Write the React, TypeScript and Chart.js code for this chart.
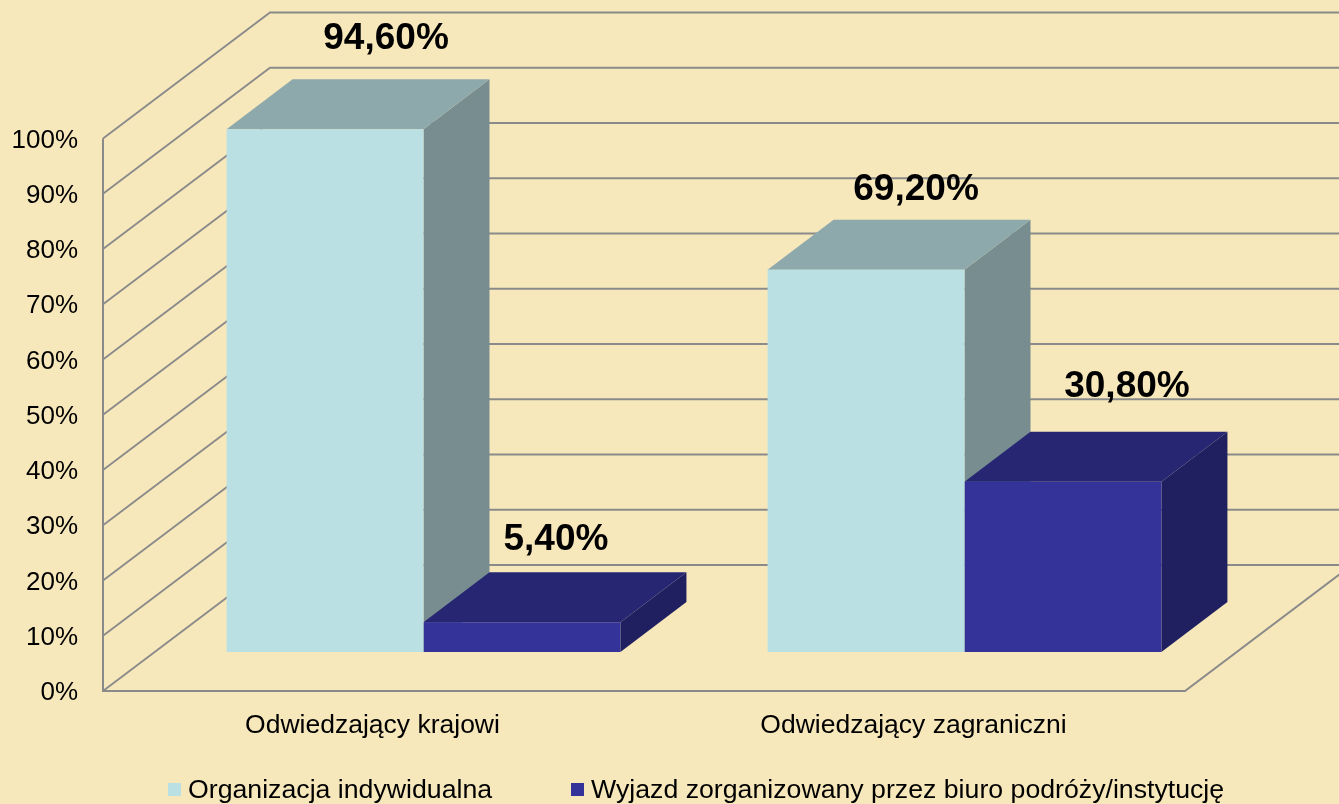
import React, { useEffect, useRef } from "react";
import { Chart, registerables } from "chart.js";

Chart.register(...registerables);

const categories = ["Odwiedzający krajowi", "Odwiedzający zagraniczni"];
const seriesNames = ["Organizacja indywidualna", "Wyjazd zorganizowany przez biuro podróży/instytucję"];
const individual = [94.6, 69.2];
const organized = [5.4, 30.8];

const FONT = "'Liberation Sans', Arial, sans-serif";
const BG = "#F7E8BB";
const LINE = "#8A8A8A";
const FRONT = ["#BBE0E3", "#333399"];
const TOP = ["#8DA9AC", "#262673"];
const SIDE = ["#788D90", "#202060"];

const WALL = { dx: 167, dy: -126 };
const BAR_SHIFT = { dx: 50, dy: -39 };
const DEPTH = { dx: 66, dy: -50 };
const LABEL_NUDGE = [
  [[28, -41], [17, -30]],
  [[1, -32], [31, -45]],
];

const poly = (ctx: CanvasRenderingContext2D, pts: number[][], fill: string) => {
  ctx.beginPath();
  pts.forEach(([x, y], i) => (i ? ctx.lineTo(x, y) : ctx.moveTo(x, y)));
  ctx.closePath();
  ctx.fillStyle = fill;
  ctx.fill();
};

const stroke = (ctx: CanvasRenderingContext2D, pts: number[][], width: number) => {
  ctx.beginPath();
  pts.forEach(([x, y], i) => (i ? ctx.lineTo(x, y) : ctx.moveTo(x, y)));
  ctx.strokeStyle = LINE;
  ctx.lineWidth = width;
  ctx.stroke();
};

const plugin3d = {
  id: "plugin3d",
  beforeDatasetsDraw(chart: any) {
    const { ctx, chartArea: a, scales } = chart;
    const y = scales.y;
    ctx.save();
    y.ticks.forEach((t: any) => {
      const py = y.getPixelForValue(t.value);
      const bx = a.left + WALL.dx;
      const by = py + WALL.dy;
      stroke(ctx, [[a.left, py], [bx, by], [chart.width + 5, by]], 1.8);
    });
    stroke(ctx, [[a.left, a.top], [a.left, a.bottom], [a.right, a.bottom], [a.right + WALL.dx, a.bottom + WALL.dy]], 2);

    chart.data.datasets.forEach((_: any, di: number) => {
      chart.getDatasetMeta(di).data.forEach((bar: any) => {
        const half = bar.width / 2;
        const l = bar.x - half + BAR_SHIFT.dx;
        const r = bar.x + half + BAR_SHIFT.dx;
        const t = bar.y + BAR_SHIFT.dy;
        const b = bar.base + BAR_SHIFT.dy;
        poly(ctx, [[r, t], [r + DEPTH.dx, t + DEPTH.dy], [r + DEPTH.dx, b + DEPTH.dy], [r, b]], SIDE[di]);
        poly(ctx, [[l, t], [l + DEPTH.dx, t + DEPTH.dy], [r + DEPTH.dx, t + DEPTH.dy], [r, t]], TOP[di]);
      });
    });
    ctx.restore();
    ctx.save();
    ctx.translate(BAR_SHIFT.dx, BAR_SHIFT.dy);
  },
  afterDatasetsDraw(chart: any) {
    const { ctx } = chart;
    ctx.restore();
    ctx.save();
    ctx.font = `bold 37px ${FONT}`;
    ctx.fillStyle = "#000";
    ctx.textAlign = "center";
    ctx.textBaseline = "middle";
    chart.data.datasets.forEach((ds: any, di: number) => {
      chart.getDatasetMeta(di).data.forEach((bar: any, i: number) => {
        const [nx, ny] = LABEL_NUDGE[di][i];
        const text = ds.data[i].toFixed(2).replace(".", ",") + "%";
        ctx.fillText(text, bar.x + BAR_SHIFT.dx + DEPTH.dx / 2 + nx, bar.y + BAR_SHIFT.dy + DEPTH.dy + ny);
      });
    });

    ctx.font = `26.7px ${FONT}`;
    ctx.textAlign = "left";
    ctx.textBaseline = "middle";
    const starts = [168, 571];
    chart.data.datasets.forEach((ds: any, di: number) => {
      ctx.fillStyle = FRONT[di];
      ctx.fillRect(starts[di], 783, 13, 13);
      ctx.fillStyle = "#000";
      ctx.fillText(ds.label, starts[di] + 20, 791);
    });
    ctx.restore();
  },
};

export default function App() {
  const ref = useRef<HTMLCanvasElement | null>(null);
  useEffect(() => {
    const chart = new Chart(ref.current as HTMLCanvasElement, {
      type: "bar",
      data: {
        labels: categories,
        datasets: [
          { label: seriesNames[0], data: individual, backgroundColor: FRONT[0], clip: false } as any,
          { label: seriesNames[1], data: organized, backgroundColor: FRONT[1], clip: false } as any,
        ],
      },
      options: {
        animation: false,
        responsive: false,
        layout: { padding: { top: 138.5, right: 154, left: 0, bottom: 0 } },
        datasets: { bar: { barPercentage: 1, categoryPercentage: 0.728 } },
        plugins: { legend: { display: false }, tooltip: { enabled: false }, title: { display: false } },
        scales: {
          x: {
            grid: { display: false },
            border: { display: false },
            ticks: { color: "#000", font: { family: FONT, size: 26.5 }, padding: 11, labelOffset: -1 },
            afterFit: (s: any) => { s.height = 113; },
          },
          y: {
            min: 0,
            max: 100,
            grid: { display: false },
            border: { display: false },
            ticks: {
              stepSize: 10,
              color: "#000",
              padding: 17,
              labelOffset: 2,
              font: { family: FONT, size: 26 },
              callback: (v: any) => `${v}%`,
            },
            afterFit: (s: any) => { s.width = 103; },
          },
        },
      },
      plugins: [plugin3d],
    } as any);
    return () => chart.destroy();
  }, []);
  return (
    <div style={{ position: "fixed", left: 0, top: 0, width: 1339, height: 804, background: BG }}>
      <canvas ref={ref} width={1339} height={804} style={{ display: "block" }} />
    </div>
  );
}
